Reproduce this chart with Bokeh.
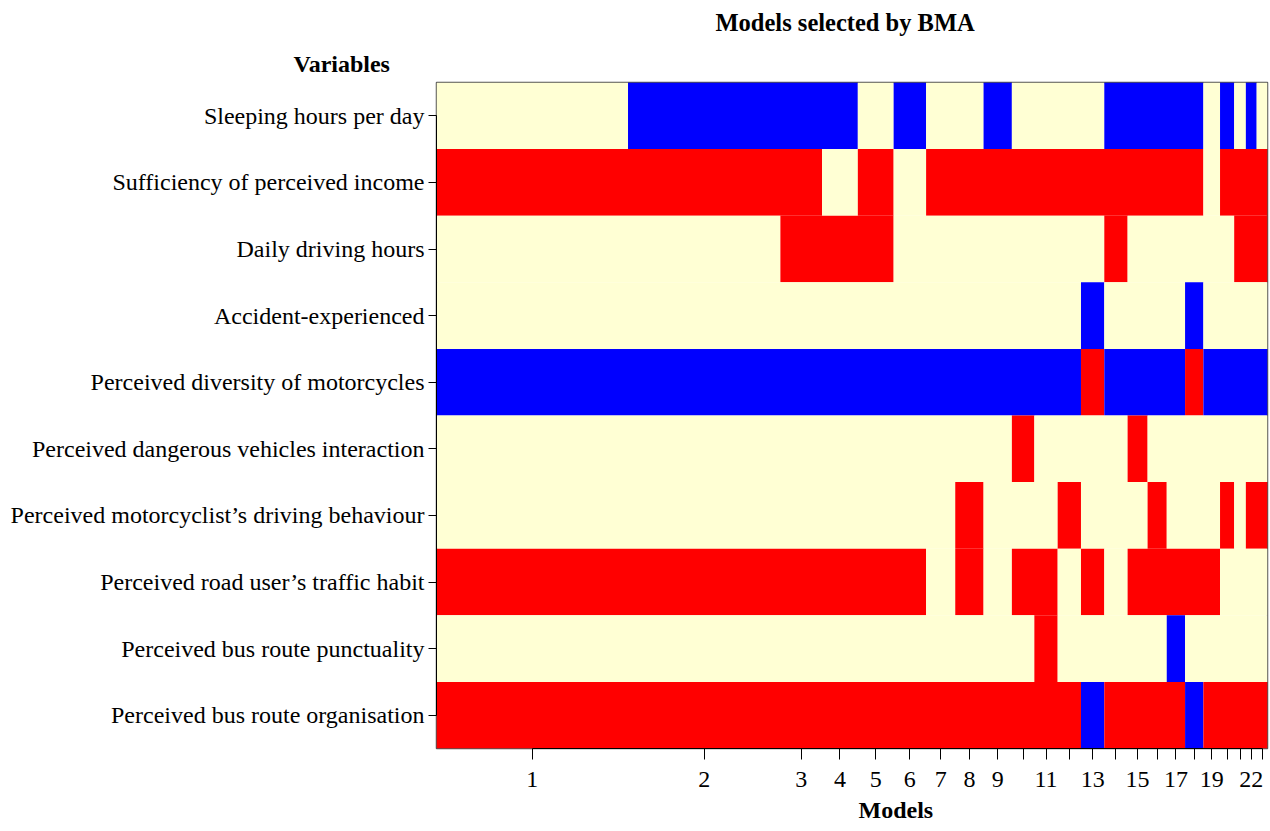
from bokeh.plotting import figure
from bokeh.models import FixedTicker, Range1d, ColumnDataSource, CustomJSTickFormatter, Title
from bokeh.embed import file_html
from bokeh.resources import INLINE

# Variables, top to bottom
variables = [
    "Sleeping hours per day",
    "Sufficiency of perceived income",
    "Daily driving hours",
    "Accident-experienced",
    "Perceived diversity of motorcycles",
    "Perceived dangerous vehicles interaction",
    "Perceived motorcyclist\u2019s driving behaviour",
    "Perceived road user\u2019s traffic habit",
    "Perceived bus route punctuality",
    "Perceived bus route organisation",
]

models = list(range(1, 24))
# posterior model probabilities (column widths)
post_prob = [0.230, 0.183, 0.050, 0.043, 0.043, 0.039, 0.035, 0.034, 0.034, 0.027,
             0.028, 0.028, 0.028, 0.028, 0.024, 0.023, 0.022, 0.022, 0.020, 0.017,
             0.014, 0.013, 0.013]
shown_labels = [1, 2, 3, 4, 5, 6, 7, 8, 9, 11, 13, 15, 17, 19, 22]

# 0 = not included, 1 = negative coefficient, 2 = positive coefficient
sleeping_hours      = [0,1,1,1,0,1,0,0,1,0,0,0,0,1,1,1,1,1,0,1,0,1,0]
income_sufficiency  = [2,2,2,0,2,0,2,2,2,2,2,2,2,2,2,2,2,2,0,2,2,2,2]
daily_driving_hours = [0,0,2,2,2,0,0,0,0,0,0,0,0,2,0,0,0,0,0,0,2,2,2]
accident_experience = [0,0,0,0,0,0,0,0,0,0,0,0,1,0,0,0,0,1,0,0,0,0,0]
motorcycle_diversity= [1,1,1,1,1,1,1,1,1,1,1,1,2,1,1,1,1,2,1,1,1,1,1]
dangerous_interact  = [0,0,0,0,0,0,0,0,0,2,0,0,0,0,2,0,0,0,0,0,0,0,0]
motorcyclist_behav  = [0,0,0,0,0,0,0,2,0,0,0,2,0,0,0,2,0,0,0,2,0,2,2]
road_user_habit     = [2,2,2,2,2,2,0,2,0,2,2,0,2,0,2,2,2,2,2,0,0,0,0]
bus_punctuality     = [0,0,0,0,0,0,0,0,0,0,2,0,0,0,0,0,1,0,0,0,0,0,0]
bus_organisation    = [2,2,2,2,2,2,2,2,2,2,2,2,1,2,2,2,2,1,2,2,2,2,2]

rows = [sleeping_hours, income_sufficiency, daily_driving_hours, accident_experience,
        motorcycle_diversity, dangerous_interact, motorcyclist_behav, road_user_habit,
        bus_punctuality, bus_organisation]

palette = {0: "#FFFFD4", 1: "#0000FF", 2: "#FF0000"}

# column positions from the posterior probabilities
lefts = []
acc = 0.0
for pr in post_prob:
    lefts.append(acc)
    acc += pr
total = acc
centers = [l + pr / 2 for l, pr in zip(lefts, post_prob)]

# merge consecutive equal cells of a row into one rectangle
nvar = len(variables)
L, R, T, B, C = [], [], [], [], []
for i, row in enumerate(rows):
    top = nvar - i
    j = 0
    while j < len(row):
        k = j
        while k + 1 < len(row) and row[k + 1] == row[j]:
            k += 1
        L.append(lefts[j]); R.append(lefts[k] + post_prob[k])
        T.append(top); B.append(top - 1)
        C.append(palette[row[j]])
        j = k + 1
src = ColumnDataSource(dict(left=L, right=R, top=T, bottom=B, color=C))

FONT = "Liberation Serif"

p = figure(width=1270, height=831, output_backend="svg", toolbar_location=None,
           x_range=Range1d(0, total), y_range=Range1d(0, nvar),
           min_border_left=436, min_border_right=3, min_border_top=82, min_border_bottom=83)
p.title.visible = False
p.quad(left="left", right="right", top="top", bottom="bottom", fill_color="color",
       line_color=None, source=src)

p.xgrid.visible = False
p.ygrid.visible = False
p.outline_line_color = "#555555"
p.outline_line_width = 1.5
p.background_fill_color = "white"

# y axis
yticks = [nvar - i - 0.5 for i in range(nvar)]
p.yaxis.ticker = FixedTicker(ticks=yticks)
p.yaxis.formatter = CustomJSTickFormatter(args=dict(labels=variables, n=nvar),
                                          code="return labels[n - 1 - Math.floor(tick)];")
p.yaxis.bounds = (yticks[-1], yticks[0])
p.yaxis.major_tick_out = 8
p.yaxis.major_tick_in = 0
p.yaxis.minor_tick_line_color = None
p.yaxis.major_label_standoff = 4
p.yaxis.major_label_text_font = FONT
p.yaxis.major_label_text_font_size = "24px"
p.yaxis.major_label_text_color = "black"
p.yaxis.axis_line_color = "black"

# x axis
xlabels = [str(m) if m in shown_labels else "" for m in models]
p.xaxis.ticker = FixedTicker(ticks=centers)
p.xaxis.formatter = CustomJSTickFormatter(args=dict(labels=xlabels), code="return labels[index];")
p.xaxis.bounds = (centers[0], centers[-1])
p.xaxis.major_tick_out = 11
p.xaxis.major_tick_in = 0
p.xaxis.minor_tick_line_color = None
p.xaxis.major_label_standoff = 12
p.xaxis.major_label_text_font = FONT
p.xaxis.major_label_text_font_size = "24px"
p.xaxis.major_label_text_color = "black"
p.xaxis.axis_line_color = "black"

# "Models" below the axis
p.add_layout(Title(text="Models", align="left", offset=422, standoff=10,
                   text_font=FONT, text_font_size="24px", text_font_style="bold",
                   text_color="black"), "below")

# texts above the frame
p.add_layout(Title(text="Variables", align="left", offset=-143, standoff=12,
                   text_font=FONT, text_font_size="24px", text_font_style="bold",
                   text_color="black"), "above")
p.add_layout(Title(text="Models selected by BMA", align="left", offset=279, standoff=13,
                   text_font=FONT, text_font_size="24.5px", text_font_style="bold",
                   text_color="black"), "above")

open("out.html", "w").write(file_html(p, INLINE))
